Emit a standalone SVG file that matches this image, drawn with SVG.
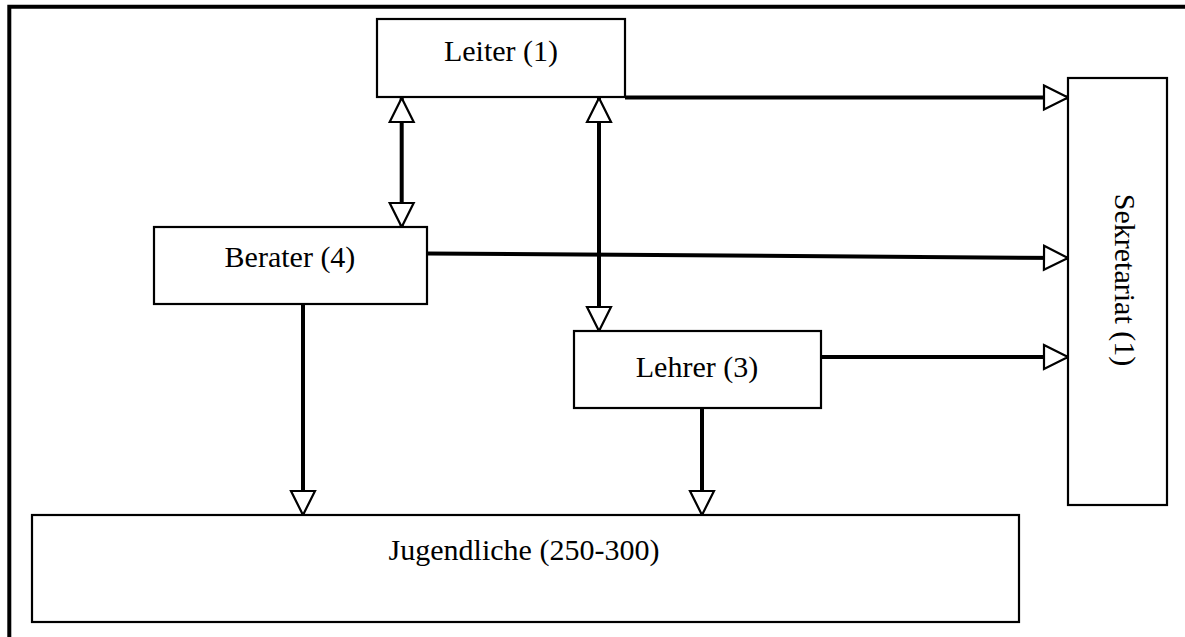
<svg xmlns="http://www.w3.org/2000/svg" width="1185" height="637" viewBox="0 0 1185 637">
<style>
.box{fill:#fff;stroke:#000;stroke-width:2.2}
.lbl{font-family:"Liberation Serif","Times New Roman",serif;font-size:30px;fill:#000;text-anchor:middle}
.con{stroke:#000;stroke-width:4;fill:none}
</style>
<defs>
<marker id="ah" markerUnits="userSpaceOnUse" markerWidth="30" markerHeight="30" refX="25" refY="13" orient="auto-start-reverse" overflow="visible">
<path d="M1,1 L25,13 L1,25 Z" fill="#fff" stroke="#000" stroke-width="2.2" stroke-linejoin="miter"/>
</marker>
</defs>
<rect width="1185" height="637" fill="#fff"/>
<path d="M9.3,637 V6.7 H1185" fill="none" stroke="#000" stroke-width="4"/>
<g id="connectors">
<line class="con" x1="401.7" y1="98" x2="401.7" y2="227" marker-start="url(#ah)" marker-end="url(#ah)"/>
<line class="con" x1="599" y1="98" x2="599" y2="331" marker-start="url(#ah)" marker-end="url(#ah)"/>
<line class="con" x1="625" y1="97.5" x2="1068" y2="97.5" marker-end="url(#ah)"/>
<line class="con" x1="427" y1="253.5" x2="1068" y2="258" marker-end="url(#ah)"/>
<line class="con" x1="821" y1="357" x2="1068" y2="357" marker-end="url(#ah)"/>
<line class="con" x1="303" y1="304" x2="303" y2="515" marker-end="url(#ah)"/>
<line class="con" x1="702" y1="405" x2="702" y2="515" marker-end="url(#ah)"/>
</g>
<g id="leiter">
<rect class="box" x="377" y="19" width="248" height="78"/>
<text class="lbl" x="501" y="61">Leiter (1)</text>
</g>
<g id="berater">
<rect class="box" x="154" y="227" width="273" height="77"/>
<text class="lbl" x="290" y="267">Berater (4)</text>
</g>
<g id="lehrer">
<rect class="box" x="574" y="331" width="247" height="77"/>
<text class="lbl" x="697" y="377">Lehrer (3)</text>
</g>
<g id="sekretariat">
<rect class="box" x="1068" y="78" width="99" height="427"/>
<text class="lbl" transform="translate(1115,280) rotate(90)" x="0" y="0">Sekretariat (1)</text>
</g>
<g id="jugendliche">
<rect class="box" x="32" y="515" width="987" height="107"/>
<text class="lbl" x="524" y="560">Jugendliche (250-300)</text>
</g>
</svg>
